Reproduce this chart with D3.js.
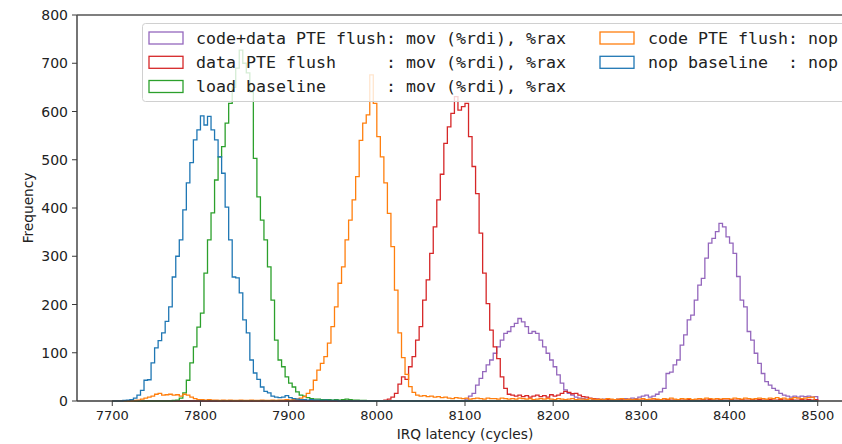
<!DOCTYPE html>
<html>
<head>
<meta charset="utf-8">
<script src="https://cdn.jsdelivr.net/npm/d3@7"></script>
<style>
  body { margin: 0; background: #fff; }
  svg { display: block; }
</style>
</head>
<body>
<div id="chart"></div>
<script>
// histogram bins: 200 bins of 4 cycles between 7700 and 8500
const binLo = 7700;
const binHi = 8500;
const binWidth = 4;

const xTicks = [7700, 7800, 7900, 8000, 8100, 8200, 8300, 8400, 8500];
const yTicks = [0, 100, 200, 300, 400, 500, 600, 700, 800];

// counts per bin, first value belongs to the bin starting at *Start
const codeDataStart = 8100;
const codeDataCounts = [4, 10, 16, 33, 47, 61, 75, 85, 99, 112, 126, 140, 144, 154, 161, 171, 164, 154, 140, 144,
  140, 126, 112, 99, 85, 71, 54, 37, 23, 16, 12, 8,
  6, 5, 4, 5, 3, 4, 3, 4, 3, 2, 3, 4, 3, 5, 4, 6, 5, 8,
  10, 12, 8, 10, 14, 19, 26, 57, 60, 75, 85, 116, 137, 168, 178, 209, 240, 254, 296, 327,
  337, 351, 368, 361, 340, 327, 306, 258, 209, 195, 144, 126, 99, 78, 57, 40, 33, 26, 22, 16,
  12, 10, 8, 10, 8, 10, 9, 10, 8, 9, 23];

const dataStart = 8008;
const dataCounts = [2, 4, 8, 16, 35, 50, 45, 71, 92, 126, 154, 209, 251, 306, 361, 417, 470, 534, 568, 596,
  631, 603, 610, 617, 548, 486, 430, 348, 265, 202, 147, 112, 88, 50, 26, 14,
  12, 10, 12, 9, 11, 8, 10, 12, 9, 11, 8, 13, 10, 12, 16, 20, 18, 15, 16, 12, 9, 8, 6, 5, 4,
  3, 2, 3, 2, 2, 3, 2, 3, 2, 2, 3, 2, 2, 3, 2, 2, 3, 2, 2, 3, 2, 2, 3, 2, 2, 3, 2, 2, 2, 3,
  2, 3, 2, 2, 3, 2, 2, 3, 2, 2, 3, 2, 2, 3, 2, 3, 2, 2, 3, 2, 2, 3, 2, 2, 3, 2, 2, 3, 2, 3, 2, 3];

const loadStart = 7768;
const loadCounts = [1, 2, 6, 17, 43, 79, 112, 153, 182, 265, 334, 390, 458, 506, 527, 576, 617, 650, 690, 727,
  700, 680, 640, 503, 423, 375, 334, 278, 209, 126, 85, 71, 50, 37, 29, 19, 12, 10, 7, 5,
  4, 4, 3, 3, 3, 2, 3, 2, 3, 4, 3, 2, 2, 1, 1];

const codeStart = 7724;
const codeCounts = [1, 2, 4, 6, 8, 10, 14, 16, 12, 13, 14, 12, 13, 10, 14, 12, 8, 5, 3, 3,
  2, 3, 2, 2, 1, 2, 1, 2, 1, 1, 2, 1, 1, 2, 1, 1, 2, 1, 1, 2, 1, 2, 2, 3, 2, 3, 4, 6, 9, 16,
  23, 43, 64, 78, 92, 120, 154, 195, 244, 278, 334, 375, 417, 465, 540, 576, 593, 676, 617, 548,
  506, 452, 389, 320, 230, 141, 90, 55, 30, 18, 12, 10, 11, 9, 10, 8, 9, 7, 8,
  6, 5, 7, 6, 5, 6, 4, 5, 6, 5, 4, 6, 5, 5, 4, 6, 5, 4, 5, 4, 6, 5, 4, 5, 3, 4, 5, 4, 5,
  4, 3, 5, 4, 3, 4, 5, 3, 4, 4, 3, 5, 4, 3, 4, 3, 5, 4, 3, 4, 5, 3, 4, 3, 4,
  4, 5, 3, 4, 5, 4, 3, 5, 4, 6, 4, 3, 5, 4, 5, 3, 4, 5, 4, 6, 5, 4, 5, 4, 5,
  5, 4, 6, 5, 4, 6, 5, 4, 5, 6, 5, 4, 6, 5, 7, 5, 6, 4, 5, 7, 6, 5, 6, 7, 8];

const nopStart = 7712;
const nopCounts = [1, 2, 3, 6, 12, 22, 43, 44, 79, 110, 125, 141, 165, 195, 257, 300, 334, 396, 452, 494,
  541, 562, 591, 572, 590, 562, 541, 506, 472, 402, 334, 257, 255, 224, 168, 141, 85, 58, 45, 29,
  20, 17, 10, 8, 7, 8, 11, 7, 5, 4, 3, 3, 2, 3, 2, 2, 1, 2, 1, 1, 1];

const seriesNames = [
  'code+data PTE flush: mov (%rdi), %rax',
  'data PTE flush     : mov (%rdi), %rax',
  'load baseline      : mov (%rdi), %rax',
  'code PTE flush: nop',
  'nop baseline  : nop'
];
const seriesColors = ['#9467bd', '#d62728', '#2ca02c', '#ff7f0e', '#1f77b4'];

function toBins(start, counts) {
  const n = (binHi - binLo) / binWidth;
  const bins = new Array(n).fill(0);
  const off = (start - binLo) / binWidth;
  counts.forEach((c, i) => { if (off + i < n) bins[off + i] = c; });
  return bins;
}

const series = [
  toBins(codeDataStart, codeDataCounts),
  toBins(dataStart, dataCounts),
  toBins(loadStart, loadCounts),
  toBins(codeStart, codeCounts),
  toBins(nopStart, nopCounts)
];

const width = 842;
const height = 444;
const margin = { top: 15, left: 77, bottom: 43 };
const plotRight = 853; // axes run past the right edge of the picture

const x = d3.scaleLinear().domain([7660, 8540]).range([margin.left, plotRight]);
const y = d3.scaleLinear().domain([0, 800]).range([height - margin.bottom, margin.top]);

const svg = d3.select('#chart').append('svg')
  .attr('width', width)
  .attr('height', height)
  .style('font-family', 'DejaVu Sans, sans-serif');

const line = d3.line().x(d => x(d[0])).y(d => y(d[1]));

series.forEach((bins, s) => {
  const pts = [[binLo, 0]];
  bins.forEach((c, i) => {
    pts.push([binLo + i * binWidth, c]);
    pts.push([binLo + (i + 1) * binWidth, c]);
  });
  pts.push([binHi, 0]);
  svg.append('path')
    .attr('d', line(pts))
    .attr('fill', 'none')
    .attr('stroke', seriesColors[s])
    .attr('stroke-width', 1.3)
    .attr('stroke-linejoin', 'miter');
});

// spines
const spine = '#3a3a3a';
svg.append('line')
  .attr('x1', margin.left).attr('x2', margin.left)
  .attr('y1', y(800)).attr('y2', y(0))
  .attr('stroke', spine).attr('stroke-width', 1.4);
svg.append('line')
  .attr('x1', margin.left).attr('x2', width)
  .attr('y1', y(0)).attr('y2', y(0))
  .attr('stroke', spine).attr('stroke-width', 1.4);
svg.append('line')
  .attr('x1', margin.left).attr('x2', width)
  .attr('y1', y(800)).attr('y2', y(800))
  .attr('stroke', '#555').attr('stroke-width', 1.6);

// y ticks
svg.selectAll('.ytick')
  .data(yTicks)
  .enter().append('line')
  .attr('x1', margin.left - 5).attr('x2', margin.left)
  .attr('y1', d => y(d)).attr('y2', d => y(d))
  .attr('stroke', spine).attr('stroke-width', 1);
svg.selectAll('.ylabel')
  .data(yTicks)
  .enter().append('text')
  .attr('x', margin.left - 9)
  .attr('y', d => y(d))
  .attr('dy', '0.36em')
  .attr('text-anchor', 'end')
  .attr('font-size', 14)
  .attr('fill', '#222')
  .text(d => d);

// x ticks
svg.selectAll('.xtick')
  .data(xTicks)
  .enter().append('line')
  .attr('x1', d => x(d)).attr('x2', d => x(d))
  .attr('y1', y(0)).attr('y2', y(0) + 5)
  .attr('stroke', spine).attr('stroke-width', 1);
svg.selectAll('.xlabel')
  .data(xTicks)
  .enter().append('text')
  .attr('x', d => x(d))
  .attr('y', y(0) + 19)
  .attr('text-anchor', 'middle')
  .attr('font-size', 13)
  .attr('fill', '#222')
  .text(d => d);

svg.append('text')
  .attr('x', (margin.left + plotRight) / 2)
  .attr('y', 439)
  .attr('text-anchor', 'middle')
  .attr('font-size', 13.7)
  .attr('fill', '#222')
  .text('IRQ latency (cycles)');

svg.append('text')
  .attr('transform', 'translate(28,' + ((y(0) + y(800)) / 2) + ') rotate(-90)')
  .attr('text-anchor', 'middle')
  .attr('dy', '0.35em')
  .attr('font-size', 13.7)
  .attr('fill', '#222')
  .text('Frequency');

// legend, two columns
const legend = svg.append('g');
legend.append('rect')
  .attr('x', 142.5).attr('y', 23.5)
  .attr('width', 760).attr('height', 78)
  .attr('rx', 3)
  .attr('fill', 'white').attr('fill-opacity', 0.8)
  .attr('stroke', '#d0d0d0').attr('stroke-width', 1);

const rowY = [38, 62.3, 86.5];
const legendPos = [
  [149, 196, rowY[0]], [149, 196, rowY[1]], [149, 196, rowY[2]],
  [600, 648, rowY[0]], [600, 648, rowY[1]]
];

seriesNames.forEach((name, i) => {
  const p = legendPos[i];
  legend.append('rect')
    .attr('x', p[0]).attr('y', p[2] - 6)
    .attr('width', 34).attr('height', 12)
    .attr('fill', 'none')
    .attr('stroke', seriesColors[i]).attr('stroke-width', 1.3);
  legend.append('text')
    .attr('x', p[1]).attr('y', p[2])
    .attr('dy', '0.36em')
    .attr('font-family', 'DejaVu Sans Mono, monospace')
    .attr('font-size', 15.5)
    .attr('textLength', name.length * 10)
    .attr('lengthAdjust', 'spacingAndGlyphs')
    .attr('fill', '#222')
    .style('white-space', 'pre')
    .text(name);
});
</script>
</body>
</html>
